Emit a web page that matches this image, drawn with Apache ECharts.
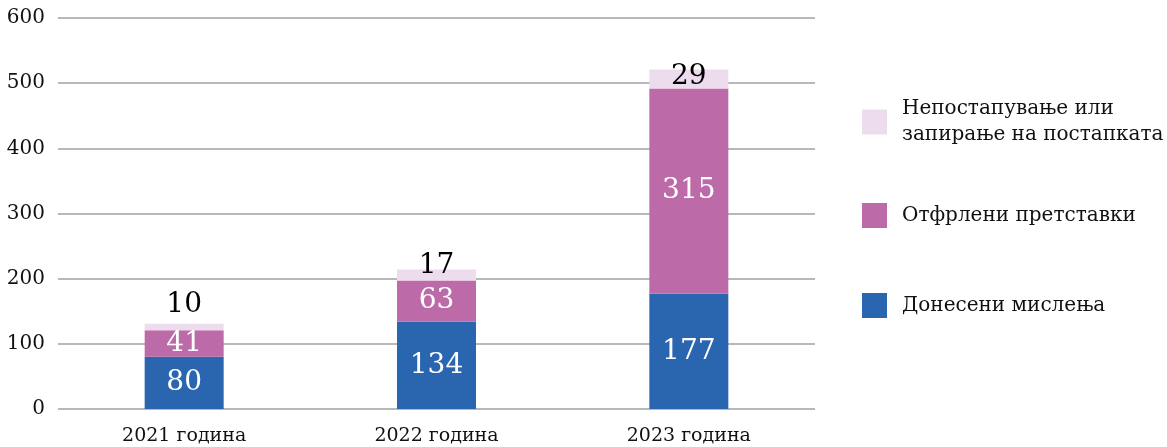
<!DOCTYPE html>
<html>
<head>
    <meta charset="utf-8" />
    <title>Stacked bars</title>
    <script src="https://cdn.jsdelivr.net/npm/echarts@6/dist/echarts.min.js"></script>
    <style>
        html, body { margin: 0; padding: 0; background: #fff; }
        #main { width: 1167px; height: 447px; }
    </style>
</head>
<body>
    <div id="main"></div>
    <script type="text/javascript">
        var categories = ['2021 година', '2022 година', '2023 година'];
        var opinions = [80, 134, 177];
        var rejected = [41, 63, 315];
        var stopped = [10, 17, 29];
        var seriesNames = ['Донесени мислења', 'Отфрлени претставки', 'Непостапување или запирање на постапката'];

        var blue = '#2a66b0';
        var pink = '#bd6aa9';
        var lightPink = '#eddcee';
        var font = 'DejaVu Serif';

        var myChart = echarts.init(document.getElementById('main'));

        // top labels sit a little differently on each bar
        var topOffsets = [[0, -22], [0, -9], [0, -2]];

        var legendText = { fontFamily: font, fontSize: 20, color: '#111', padding: [0, 0, 0, 10] };

        var option = {
            animation: false,
            textStyle: { fontFamily: font },
            grid: { left: 58, right: 352, top: 18, bottom: 38 },
            legend: [
                {
                    orient: 'vertical', left: 857, top: 91,
                    icon: 'rect', itemWidth: 25, itemHeight: 25,
                    textStyle: Object.assign({ lineHeight: 26 }, legendText),
                    data: [{ name: seriesNames[2], itemStyle: { color: lightPink } }],
                    formatter: function (n) { return 'Непостапување или\nзапирање на постапката'; }
                },
                {
                    orient: 'vertical', left: 857, top: 198,
                    icon: 'rect', itemWidth: 25, itemHeight: 25,
                    textStyle: legendText,
                    data: [seriesNames[1]]
                },
                {
                    orient: 'vertical', left: 857, top: 288,
                    icon: 'rect', itemWidth: 25, itemHeight: 25,
                    textStyle: legendText,
                    data: [seriesNames[0]]
                }
            ],
            xAxis: {
                type: 'category',
                data: categories,
                axisLine: { show: false },
                axisTick: { show: false },
                axisLabel: { fontFamily: font, fontSize: 19, color: '#111', margin: 18 }
            },
            yAxis: {
                type: 'value',
                min: 0, max: 600, interval: 100,
                axisLine: { show: false },
                axisTick: { show: false },
                axisLabel: { fontFamily: font, fontSize: 20, color: '#111', margin: 13 },
                splitLine: { lineStyle: { color: '#b6b9bc', width: 2 } }
            },
            series: [
                {
                    name: seriesNames[0], type: 'bar', stack: 'a', barWidth: 79,
                    itemStyle: { color: blue },
                    label: { show: true, position: 'inside', color: '#fff', fontFamily: font, fontSize: 28 },
                    data: opinions
                },
                {
                    name: seriesNames[1], type: 'bar', stack: 'a', barWidth: 79,
                    itemStyle: { color: pink },
                    label: { show: true, position: 'inside', color: '#fff', fontFamily: font, fontSize: 28 },
                    data: rejected
                },
                {
                    name: seriesNames[2], type: 'bar', stack: 'a', barWidth: 79,
                    itemStyle: { color: lightPink },
                    data: stopped.map(function (v, i) {
                        return {
                            value: v,
                            label: { show: true, position: 'inside', offset: topOffsets[i], color: '#000', fontFamily: font, fontSize: 28 }
                        };
                    })
                }
            ]
        };

        myChart.setOption(option);
    </script>
</body>
</html>
